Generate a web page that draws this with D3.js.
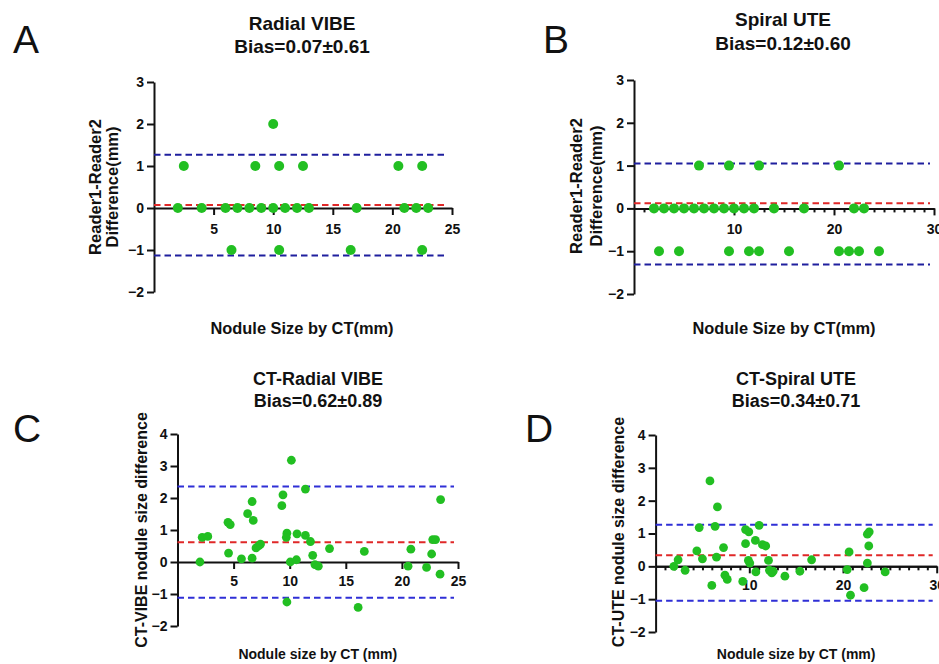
<!DOCTYPE html>
<html>
<head>
<meta charset="utf-8">
<script src="https://cdn.jsdelivr.net/npm/d3@7"></script>
<style>
  body { margin: 0; background: #fff; }
  svg text { font-family: "Liberation Sans", Arial, sans-serif; fill: #111; }
  .axis path, .axis line { stroke: #111; stroke-width: 2; }
  .axis text { font-size: 14px; font-weight: bold; }
</style>
</head>
<body>
<div id="chart-area"></div>
<script>

// Panel text
var panelLetters = ["A", "B", "C", "D"];
var titles = [
	["Radial VIBE", "Bias=0.07±0.61"],
	["Spiral UTE", "Bias=0.12±0.60"],
	["CT-Radial VIBE", "Bias=0.62±0.89"],
	["CT-Spiral UTE", "Bias=0.34±0.71"]
];
var yTitles = [
	["Reader1-Reader2", "Difference(mm)"],
	["Reader1-Reader2", "Difference(mm)"],
	["CT-VIBE nodule size difference"],
	["CT-UTE nodule size difference"]
];
var xTitles = ["Nodule Size by CT(mm)", "Nodule Size by CT(mm)", "Nodule size by CT (mm)", "Nodule size by CT (mm)"];

// Axis domains and tick values
var xMax = [25, 30, 25, 30];
var yDomains = [[-2, 3], [-2, 3], [-2, 4], [-2, 4]];
var xTicks = [[5, 10, 15, 20, 25], [10, 20, 30], [5, 10, 15, 20, 25], [10, 20, 30]];
var yTicks = [[-2, -1, 0, 1, 2, 3], [-2, -1, 0, 1, 2, 3], [-2, -1, 0, 1, 2, 3, 4], [-2, -1, 0, 1, 2, 3, 4]];
var minorStep = [null, 1, null, 1];

// Bias and limits of agreement
var biasLine = [0.07, 0.12, 0.62, 0.34];
var upperLoA = [1.27, 1.05, 2.36, 1.27];
var lowerLoA = [-1.13, -1.31, -1.12, -1.05];

// A: Radial VIBE, reader1 - reader2
var aSize = [2.5, 8.5, 10.5, 12.5, 20.5, 22.5, 10,
	2, 4, 6, 7, 8, 9, 10, 11, 12, 13, 17, 21, 22, 23,
	6.5, 10.5, 16.5, 22.5];
var aDiff = [1, 1, 1, 1, 1, 1, 2,
	0, 0, 0, 0, 0, 0, 0, 0, 0, 0, 0, 0, 0, 0,
	-1, -1, -1, -1];

// B: Spiral UTE, reader1 - reader2
var bSize = [6.5, 9.5, 12.5, 20.5,
	2, 3, 4, 5, 6, 7, 8, 9, 10, 11, 12, 14, 17, 22, 23,
	2.5, 4.5, 9.5, 11.5, 12.5, 15.5, 20.5, 21.5, 22.5, 24.5];
var bDiff = [1, 1, 1, 1,
	0, 0, 0, 0, 0, 0, 0, 0, 0, 0, 0, 0, 0, 0, 0,
	-1, -1, -1, -1, -1, -1, -1, -1, -1, -1];

// C: CT - Radial VIBE
var cSize = [10.15, 11.4, 9.4, 9.3, 6.65, 6.25, 6.75, 4.5, 4.7, 2.2,
	2.7, 2.0, 4.55, 5.7, 6.65, 7.0, 7.25, 7.4, 9.75, 9.7,
	10.65, 11.4, 11.85, 12.05, 10.05, 10.6, 12.25, 12.55, 9.75, 13.55,
	16.65, 16.1, 20.8, 20.55, 22.2, 22.65, 22.75, 23.0, 23.45, 23.4];
var cDiff = [3.18, 2.28, 2.10, 1.76, 1.89, 1.51, 1.30, 1.24, 1.17, 0.77,
	0.80, 0.0, 0.28, 0.10, 0.12, 0.44, 0.51, 0.56, 0.90, 0.77,
	0.88, 0.83, 0.64, 0.21, 0.0, 0.07, -0.08, -0.13, -1.25, 0.42,
	0.33, -1.42, 0.40, -0.13, -0.17, 0.25, 0.70, 0.70, 1.95, -0.38];

// D: CT - Spiral UTE
var dSize = [5.8, 6.6, 4.65, 6.35, 4.4, 5.0, 6.5, 7.25, 1.95, 2.4,
	3.15, 6.0, 7.4, 7.65, 9.3, 9.6, 9.95, 11.05, 9.6, 10.65,
	11.4, 11.75, 9.9, 10.05, 10.7, 12.05, 12.15, 12.4, 12.55, 13.8,
	15.4, 16.65, 20.65, 20.45, 20.8, 22.25, 22.6, 22.8, 22.75, 22.6, 24.5];
var dDiff = [2.60, 1.81, 1.18, 1.22, 0.47, 0.23, 0.28, 0.57, 0.0, 0.20,
	-0.12, -0.58, -0.27, -0.40, -0.46, 1.12, 1.05, 1.25, 0.69, 0.79,
	0.66, 0.62, 0.18, 0.10, -0.17, 0.18, -0.12, -0.20, -0.15, -0.30,
	-0.15, 0.20, 0.44, -0.10, -0.88, -0.65, 0.98, 1.05, 0.62, 0.10, -0.17];

var sizes = [aSize, bSize, cSize, dSize];
var diffs = [aDiff, bDiff, cDiff, dDiff];


// Layout of each panel on the page
var layout = [
	{x: [154, 452], y: [292, 82], letter: [13, 53], title: [302, 30, 53], yt: [101, 118], ytY: 187, xt: 334, tickLab: 27, r: 5, blue: "#1f1f9e", font: 19},
	{x: [634, 934], y: [294, 80], letter: [543, 53], title: [783, 26, 50], yt: [582, 602], ytY: 186, xt: 334, tickLab: 27, r: 5, blue: "#1f1f9e", font: 19},
	{x: [177.5, 458], y: [626, 434], letter: [13, 442], title: [318, 385, 407], yt: [147], ytY: 530, xt: 659, tickLab: 25, r: 4.4, blue: "#2f2fd6", font: 18},
	{x: [655.6, 936.7], y: [632, 435], letter: [525, 442], title: [796, 385, 407], yt: [624], ytY: 532, xt: 659, tickLab: 25, r: 4.4, blue: "#2f2fd6", font: 18}
];

var svg = d3.select("#chart-area").append("svg")
	.attr("width", 939)
	.attr("height", 664);

for (var i = 0; i < 4; i++) {
	drawPanel(i);
}

function drawPanel(i) {
	var L = layout[i];
	var g = svg.append("g");

	var x = d3.scaleLinear().domain([0, xMax[i]]).range(L.x);
	var y = d3.scaleLinear().domain(yDomains[i]).range(L.y);

	// panel letter
	g.append("text")
		.attr("x", L.letter[0])
		.attr("y", L.letter[1])
		.style("font-size", "39px")
		.text(panelLetters[i]);

	// title
	g.append("text")
		.attr("x", L.title[0]).attr("y", L.title[1])
		.attr("text-anchor", "middle")
		.style("font-size", L.font + "px").style("font-weight", "bold")
		.text(titles[i][0]);
	g.append("text")
		.attr("x", L.title[0]).attr("y", L.title[2])
		.attr("text-anchor", "middle")
		.style("font-size", L.font + "px").style("font-weight", "bold")
		.text(titles[i][1]);

	// y axis
	var yAxis = d3.axisLeft(y)
		.tickValues(yTicks[i])
		.tickFormat(d3.format("d"))
		.tickSize(7)
		.tickSizeOuter(0)
		.tickPadding(3);
	g.append("g")
		.attr("class", "axis")
		.attr("transform", "translate(" + L.x[0] + ",0)")
		.call(yAxis);

	// minor ticks on x axis
	if (minorStep[i]) {
		var minors = d3.range(1, xMax[i], minorStep[i]).filter(function(v) {
			return xTicks[i].indexOf(v) < 0;
		});
		g.append("g")
			.attr("class", "axis")
			.attr("transform", "translate(0," + y(0) + ")")
			.call(d3.axisBottom(x).tickValues(minors).tickSize(4).tickSizeOuter(0).tickFormat(""));
	}

	// x axis at zero
	var xAxis = d3.axisBottom(x)
		.tickValues(xTicks[i])
		.tickSize(7)
		.tickSizeOuter(0)
		.tickPadding(L.tickLab - 18);
	g.append("g")
		.attr("class", "axis")
		.attr("transform", "translate(0," + y(0) + ")")
		.call(xAxis);

	// y axis title
	var yt = g.append("text")
		.attr("transform", "rotate(-90)")
		.attr("text-anchor", "middle")
		.style("font-size", i < 2 ? "16.5px" : "16px")
		.style("font-weight", "bold");
	yTitles[i].forEach(function(line, k) {
		yt.append("tspan")
			.attr("x", -L.ytY)
			.attr("y", L.yt[k])
			.text(line);
	});

	// x axis title
	g.append("text")
		.attr("x", (L.x[0] + L.x[1]) / 2 + (i == 0 ? -1 : (i == 1 ? 0 : -0)))
		.attr("y", L.xt)
		.attr("text-anchor", "middle")
		.style("font-size", i < 2 ? "16.4px" : "14px")
		.style("font-weight", "bold")
		.text(xTitles[i]);

	// limits of agreement and bias
	var lines = [
		{v: upperLoA[i], c: L.blue},
		{v: lowerLoA[i], c: L.blue},
		{v: biasLine[i], c: "#e02828"}
	];
	g.selectAll(".loa")
		.data(lines)
		.enter().append("line")
		.attr("class", "loa")
		.attr("x1", L.x[0])
		.attr("x2", L.x[1] - 4)
		.attr("y1", function(d) { return y(d.v); })
		.attr("y2", function(d) { return y(d.v); })
		.attr("stroke", function(d) { return d.c; })
		.attr("stroke-width", 2)
		.attr("stroke-dasharray", "6.5,4");

	// points
	var pts = sizes[i].map(function(s, k) { return {s: s, d: diffs[i][k]}; });
	g.selectAll(".dot")
		.data(pts)
		.enter().append("circle")
		.attr("class", "dot")
		.attr("cx", function(d) { return x(d.s); })
		.attr("cy", function(d) { return y(d.d); })
		.attr("r", L.r)
		.attr("fill", "#22bf22");
}

</script>
</body>
</html>
